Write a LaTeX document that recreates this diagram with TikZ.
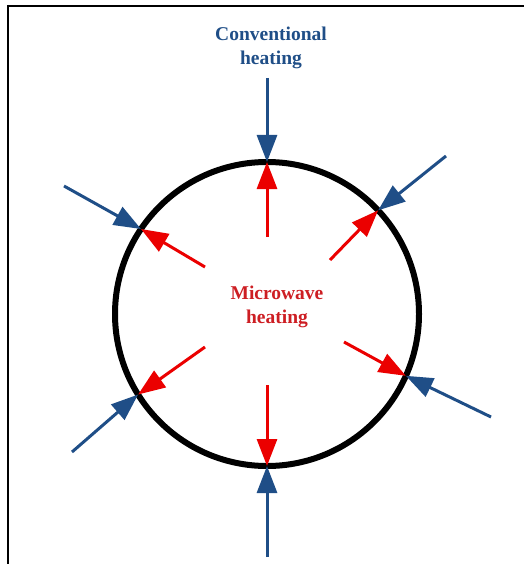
\documentclass[tikz,border=0pt]{standalone}
\usepackage{fontspec}
\setmainfont{Liberation Serif}
\usetikzlibrary{arrows.meta}
\definecolor{convblue}{RGB}{31,78,135}
\definecolor{wavered}{RGB}{235,0,0}
\definecolor{wavetext}{RGB}{205,30,35}
\tikzset{
  heat/.style={line width=3pt,-{Triangle[length=27pt,width=20pt]}},
  conv/.style={heat,draw=convblue},
  micro/.style={heat,draw=wavered},
  caption/.style={font=\bfseries\fontsize{19.5}{24}\selectfont,align=center,inner sep=0pt,anchor=north}
}
\begin{document}
\begin{tikzpicture}[x=1pt,y=-1pt]
\useasboundingbox (0,0) rectangle (524,564);
% frame
\draw[line width=2pt] (7,6) -- (524,6);
\draw[line width=2.5pt] (8,5) -- (8,564);
% particle
\node[circle,draw,line width=6pt,minimum size=304pt,inner sep=0pt,outer sep=0pt] (body) at (267,314) {};
\node[caption,text=convblue] (convlabel) at (271,27) {Conventional\\heating};
\node[caption,text=wavetext] (mwlabel) at (277,286) {Microwave\\heating};
% outer ends
\coordinate (ct) at (267,78);
\coordinate (cur) at (446,156);
\coordinate (clr) at (491,417);
\coordinate (cb) at (267,557);
\coordinate (cll) at (72,452);
\coordinate (cul) at (64,186);
% inner ends
\coordinate (mt) at (267,237);
\coordinate (mur) at (330,260);
\coordinate (mlr) at (344,342);
\coordinate (mb) at (267,385);
\coordinate (mll) at (205,347);
\coordinate (mul) at (205,267);
% conventional heating, from outside
\draw[conv] (ct) -- (body.90);
\draw[conv] (cur) -- (body.43);
\draw[conv] (clr) -- (body.-24);
\draw[conv] (cb) -- (body.-90);
\draw[conv] (cll) -- (body.212);
\draw[conv] (cul) -- (body.146);
% microwave heating, from inside
\draw[micro] (mt) -- (body.90);
\draw[micro] (mur) -- (body.43);
\draw[micro] (mlr) -- (body.-24);
\draw[micro] (mb) -- (body.-90);
\draw[micro] (mll) -- (body.212);
\draw[micro] (mul) -- (body.146);
\end{tikzpicture}
\end{document}
